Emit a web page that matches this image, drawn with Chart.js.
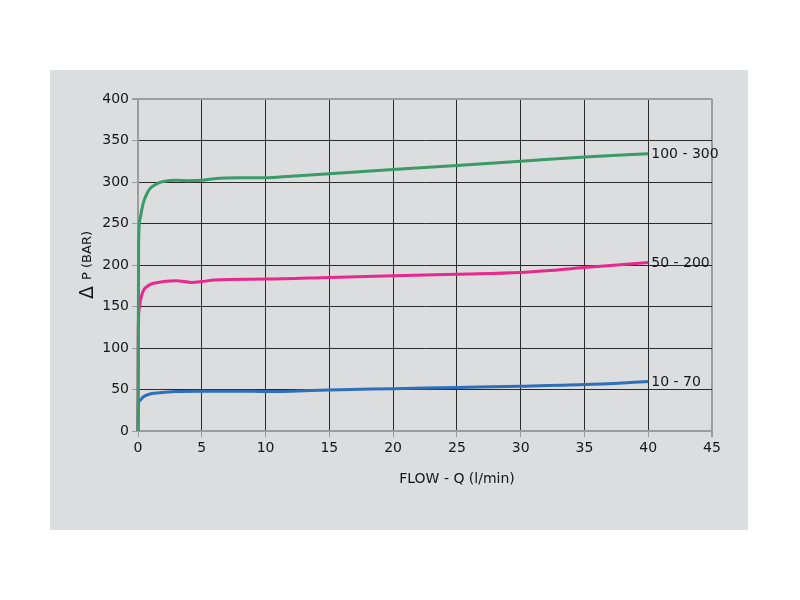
<!DOCTYPE html>
<html><head><meta charset="utf-8">
<script src="https://cdn.jsdelivr.net/npm/chart.js@4"></script>
<style>
body{margin:0;background:#fff;}
#wrap{position:absolute;left:50px;top:70px;width:698px;height:460px;background:#dcdddf;}
canvas{display:block;}
</style></head><body>
<div id="wrap"><canvas id="c" width="698" height="460" style="width:698px;height:460px"></canvas></div>
<script>
// Flow Q (l/min) and pressure ΔP (bar) for each spring range
const flowG = [0, 0.05, 0.15, 0.4, 0.7, 1, 1.5, 2, 3, 4, 5, 6, 8, 10, 12, 15, 20, 25, 30, 35, 40];
const presG = [0, 225, 255, 274, 286, 293, 298, 300.5, 302, 301.5, 302, 304, 305, 305, 307, 310, 315, 320, 325, 330, 334];
const flowP = [0, 0.02, 0.1, 0.2, 0.42, 0.7, 1, 2, 3, 4.2, 5, 6, 10, 15, 20, 25, 30, 32, 35, 40];
const presP = [0, 120, 148, 158, 169, 174, 177, 180, 181, 179, 180, 182, 183, 185, 187, 189, 191, 193, 197, 203];
const flowB = [0, 0.03, 0.15, 0.4, 0.8, 1.7, 3, 5, 8, 10, 12, 15, 20, 25, 30, 35, 40];
const presB = [0, 32, 37, 41, 44, 46, 47.5, 48, 48, 47.5, 48, 49.5, 51, 52.5, 54, 56, 59.5];
const seriesNames = ['100 - 300', '50 - 200', '10 - 70'];
const xTitle = 'FLOW - Q (l/min)';
const yTitleA = 'Δ';
const yTitleB = 'P (BAR)';

const pts = (xs, ys) => xs.map((x, i) => ({x, y: ys[i]}));
const FONT = '"DejaVu Sans", sans-serif';
const GRAY = '#9c9c9c', DARK = '#2b2b2b', TXT = '#161616';

const labelPlugin = {
  id: 'labels',
  afterDatasetsDraw(chart) {
    const ctx = chart.ctx;
    ctx.save();
    ctx.fillStyle = TXT;
    ctx.font = '14px ' + FONT;
    ctx.textBaseline = 'middle';
    ctx.textAlign = 'left';
    chart.data.datasets.forEach((ds, i) => {
      const meta = chart.getDatasetMeta(i);
      const el = meta.data[meta.data.length - 1];
      ctx.fillText(ds.label, el.x + 3, el.y + 1);
    });
    // x title
    const ca = chart.chartArea;
    ctx.textAlign = 'center';
    ctx.font = '14px ' + FONT;
    ctx.fillText(xTitle, (ca.left + ca.right) / 2 + 32, 409);
    // y title (rotated)
    ctx.translate(38, (ca.top + ca.bottom) / 2);
    ctx.rotate(-Math.PI / 2);
    ctx.font = '19px ' + FONT;
    const wA = ctx.measureText(yTitleA + ' ').width;
    ctx.font = '13px ' + FONT;
    const wB = ctx.measureText(yTitleB).width;
    let x0 = -(wA + wB) / 2;
    ctx.textAlign = 'left';
    ctx.font = '19px ' + FONT;
    ctx.fillText(yTitleA, x0, 0);
    ctx.font = '13px ' + FONT;
    ctx.fillText(yTitleB, x0 + wA, 0);
    ctx.restore();
  }
};

new Chart(document.getElementById('c'), {
  type: 'scatter',
  data: {
    datasets: [
      {label: seriesNames[0], data: pts(flowG, presG), borderColor: '#3a9a68'},
      {label: seriesNames[1], data: pts(flowP, presP), borderColor: '#e8288c'},
      {label: seriesNames[2], data: pts(flowB, presB), borderColor: '#2f6eb9'}
    ].map(d => Object.assign(d, {showLine: true, pointRadius: 0, borderWidth: 3, cubicInterpolationMode: 'monotone', clip: false}))
  },
  options: {
    responsive: false,
    animation: false,
    layout: {padding: {left: 0, right: 36, top: 29, bottom: 0}},
    plugins: {legend: {display: false}, tooltip: {enabled: false}},
    scales: {
      x: {
        type: 'linear', min: 0, max: 45,
        ticks: {stepSize: 5, color: TXT, font: {size: 14, family: FONT}, padding: 3},
        grid: {color: c => (c.tick && (c.tick.value === 0 || c.tick.value === 45)) ? GRAY : DARK,
               lineWidth: c => (c.tick && (c.tick.value === 45)) ? 2 : 1,
               tickColor: GRAY, tickLength: 6},
        border: {color: GRAY, width: 2},
        afterFit(s) { s.height = 99; }
      },
      y: {
        min: 0, max: 400,
        ticks: {stepSize: 50, color: TXT, font: {size: 14, family: FONT}, padding: 3},
        grid: {color: c => (c.tick && (c.tick.value === 0 || c.tick.value === 400)) ? GRAY : DARK,
               lineWidth: c => (c.tick && (c.tick.value === 400)) ? 2 : 1,
               tickColor: GRAY, tickLength: 6},
        border: {color: GRAY, width: 2},
        afterFit(s) { s.width = 88; }
      }
    }
  },
  plugins: [labelPlugin]
});
</script>
</body></html>
